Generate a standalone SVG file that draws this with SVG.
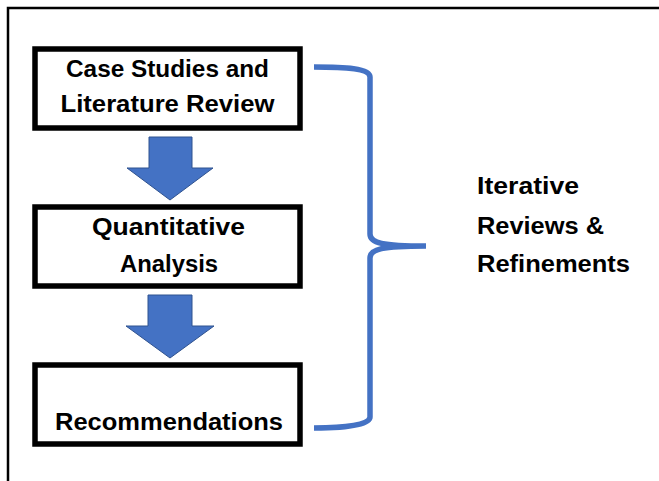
<svg xmlns="http://www.w3.org/2000/svg" width="659" height="481" viewBox="0 0 659 481">
<style>
.box{fill:#fff;stroke:#000;stroke-width:5.5}
.t{font-family:"Liberation Sans",Arial,sans-serif;font-weight:bold;font-size:23px;fill:#000}
.arrow{fill:#4472C4;stroke:#2F528F;stroke-width:1}
.brace{fill:none;stroke:#4472C4;stroke-width:5.5;stroke-linecap:butt}
</style>
<rect width="659" height="481" fill="#fff"/>
<g id="frame">
<path d="M8,490 L8,8 L660,8" fill="none" stroke="#000" stroke-width="2.5"/>
</g>
<g id="connectors">
<path class="arrow" d="M149,137 L192,137 L192,168 L213,168 L170,200 L127,168 L149,168 Z"/>
<path class="arrow" d="M148,295 L192,295 L192,326 L214,326 L170,358 L126,326 L148,326 Z"/>
<path class="brace" d="M314,67 C345,67 370,68 370,77 L370,234 C370,243 382,246 426,246 C382,246 370,249 370,258 L370,417 C370,425 345,428 314,428"/>
</g>
<g id="node1">
<rect class="box" x="35" y="49" width="265" height="79"/>
<text class="t" x="167.5" y="77" text-anchor="middle" textLength="203" lengthAdjust="spacingAndGlyphs">Case Studies and</text>
<text class="t" x="167.5" y="112" text-anchor="middle" textLength="214" lengthAdjust="spacingAndGlyphs">Literature Review</text>
</g>
<g id="node2">
<rect class="box" x="35" y="207" width="265" height="79"/>
<text class="t" x="168.5" y="235" text-anchor="middle" textLength="153" lengthAdjust="spacingAndGlyphs">Quantitative</text>
<text class="t" x="169" y="272" text-anchor="middle" textLength="98" lengthAdjust="spacingAndGlyphs">Analysis</text>
</g>
<g id="node3">
<rect class="box" x="35" y="365" width="265" height="79"/>
<text class="t" x="169" y="430" text-anchor="middle" textLength="228" lengthAdjust="spacingAndGlyphs">Recommendations</text>
</g>
<g id="label">
<text class="t" x="477" y="194" textLength="102" lengthAdjust="spacingAndGlyphs">Iterative</text>
<text class="t" x="477" y="234" textLength="127" lengthAdjust="spacingAndGlyphs">Reviews &amp;</text>
<text class="t" x="477" y="272" textLength="153" lengthAdjust="spacingAndGlyphs">Refinements</text>
</g>
</svg>
